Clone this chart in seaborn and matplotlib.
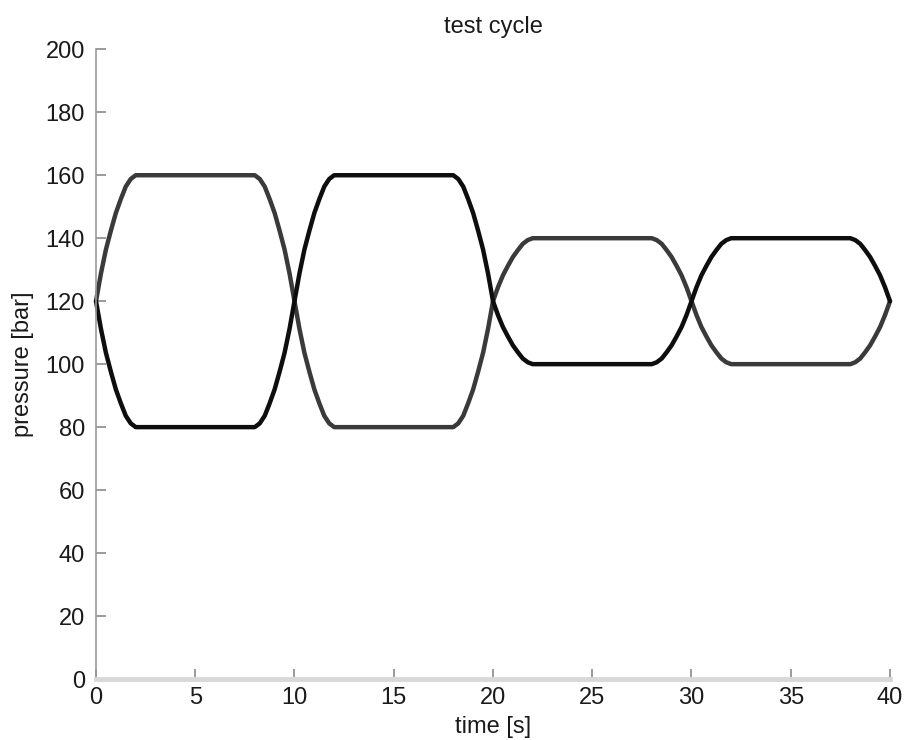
import matplotlib
matplotlib.use("Agg")
import matplotlib.pyplot as plt
import seaborn as sns
import pandas as pd

# sample times [s]
time_s = [
    0, 0.25, 0.5, 0.75, 1, 1.25, 1.5, 1.75, 2,
    8, 8.25, 8.5, 8.75, 9, 9.25, 9.5, 9.75, 10,
    10.25, 10.5, 10.75, 11, 11.25, 11.5, 11.75, 12,
    18, 18.25, 18.5, 18.75, 19, 19.25, 19.5, 19.75, 20,
    20.25, 20.5, 20.75, 21, 21.25, 21.5, 21.75, 22,
    28, 28.25, 28.5, 28.75, 29, 29.25, 29.5, 29.75, 30,
    30.25, 30.5, 30.75, 31, 31.25, 31.5, 31.75, 32,
    38, 38.25, 38.5, 38.75, 39, 39.25, 39.5, 39.75, 40,
]

# chamber A pressure [bar]
pressure_a = [
    120, 128.8, 136.4, 142.4, 148, 152.4, 156.4, 158.8, 160,
    160, 158.8, 156.4, 152.4, 148, 142.4, 136.4, 128.8, 120,
    111.2, 103.6, 97.6, 92, 87.6, 83.6, 81.2, 80,
    80, 81.2, 83.6, 87.6, 92, 97.6, 103.6, 111.2, 120,
    124.4, 128.2, 131.2, 134, 136.2, 138.2, 139.4, 140,
    140, 139.4, 138.2, 136.2, 134, 131.2, 128.2, 124.4, 120,
    115.6, 111.8, 108.8, 106, 103.8, 101.8, 100.6, 100,
    100, 100.6, 101.8, 103.8, 106, 108.8, 111.8, 115.6, 120,
]

# chamber B pressure [bar]
pressure_b = [
    120, 111.2, 103.6, 97.6, 92, 87.6, 83.6, 81.2, 80,
    80, 81.2, 83.6, 87.6, 92, 97.6, 103.6, 111.2, 120,
    128.8, 136.4, 142.4, 148, 152.4, 156.4, 158.8, 160,
    160, 158.8, 156.4, 152.4, 148, 142.4, 136.4, 128.8, 120,
    115.6, 111.8, 108.8, 106, 103.8, 101.8, 100.6, 100,
    100, 100.6, 101.8, 103.8, 106, 108.8, 111.8, 115.6, 120,
    124.4, 128.2, 131.2, 134, 136.2, 138.2, 139.4, 140,
    140, 139.4, 138.2, 136.2, 134, 131.2, 128.2, 124.4, 120,
]

x_ticks = [0, 5, 10, 15, 20, 25, 30, 35, 40]
y_ticks = [0, 20, 40, 60, 80, 100, 120, 140, 160, 180, 200]

df = pd.DataFrame({
    "time": time_s * 2,
    "pressure": pressure_a + pressure_b,
    "chamber": ["A"] * len(time_s) + ["B"] * len(time_s),
})

sns.set_style("white")
plt.rcParams["font.family"] = ["Liberation Sans", "DejaVu Sans"]

fig = plt.figure(figsize=(9.09, 7.40), dpi=100)
ax = fig.add_axes([0.1056, 0.0824, 0.8735, 0.851])

sns.lineplot(data=df, x="time", y="pressure", hue="chamber",
             palette={"A": "#3a3a3a", "B": "#0e0e0e"},
             linewidth=3.2, legend=False, ax=ax, sort=False,
             estimator=None, clip_on=False)

ax.set_xlim(0, 40)
ax.set_ylim(0, 200)
ax.set_xticks(x_ticks)
ax.set_yticks(y_ticks)
ax.set_xticklabels([str(v) for v in x_ticks])
ax.set_yticklabels([str(v) for v in y_ticks])

for side in ("top", "right"):
    ax.spines[side].set_visible(False)
ax.spines["left"].set_color("#9a9a9a")
ax.spines["left"].set_linewidth(1.2)
ax.spines["bottom"].set_color("#d8d8d8")
ax.spines["bottom"].set_linewidth(3.5)

ax.tick_params(axis="both", bottom=True, left=True, direction="in",
               length=7, width=1.2, color="#8a8a8a",
               labelsize=17, labelcolor="#1a1a1a")
ax.tick_params(axis="x", pad=6)
ax.tick_params(axis="y", pad=8)

ax.set_title("test cycle", fontsize=17, color="#1a1a1a", pad=12)
ax.set_xlabel("time [s]", fontsize=17, color="#1a1a1a", labelpad=5)
ax.set_ylabel("pressure [bar]", fontsize=17, color="#1a1a1a", labelpad=8)

fig.savefig("out.png", dpi=100)
